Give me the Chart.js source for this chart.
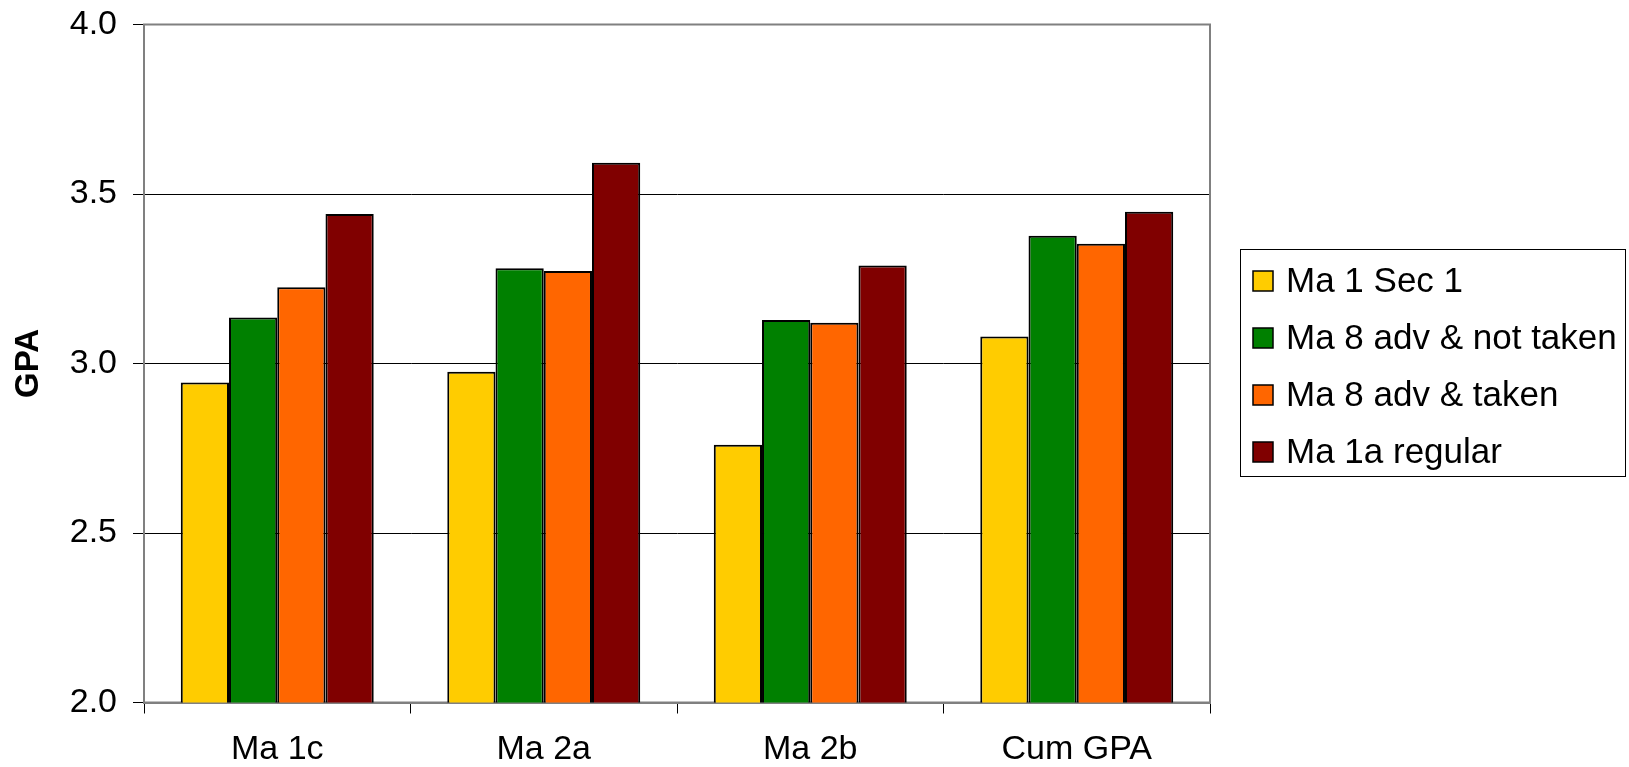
<!DOCTYPE html>
<html>
<head>
<meta charset="utf-8">
<script src="https://cdn.jsdelivr.net/npm/chart.js@4"></script>
<style>
  html, body { margin: 0; padding: 0; background: #ffffff; }
  #wrap { width: 1629px; height: 767px; }
</style>
</head>
<body>
<div id="wrap"><canvas id="c" width="1629" height="767"></canvas></div>
<script>
// Course groups along the x axis
const categories = ['Ma 1c', 'Ma 2a', 'Ma 2b', 'Cum GPA'];

// Mean GPA for each student group
const ma1Sec1      = [2.944, 2.976, 2.760, 3.080];
const ma8NotTaken  = [3.136, 3.281, 3.128, 3.377];
const ma8Taken     = [3.225, 3.273, 3.120, 3.353];
const ma1aRegular  = [3.441, 3.592, 3.289, 3.448];

const seriesNames  = ['Ma 1 Sec 1', 'Ma 8 adv & not taken', 'Ma 8 adv & taken', 'Ma 1a regular'];
const seriesColors = ['#FFCC00', '#008000', '#FF6600', '#800000'];
const seriesValues = [ma1Sec1, ma8NotTaken, ma8Taken, ma1aRegular];

const FONT = '"Liberation Sans", Arial, Helvetica, sans-serif';

// Grey frame around the plot area, drawn under the bars
const plotFrame = {
  id: 'plotFrame',
  beforeDatasetsDraw(chart) {
    const { ctx, chartArea: a } = chart;
    ctx.save();
    ctx.strokeStyle = '#808080';
    ctx.lineWidth = 2;
    ctx.strokeRect(a.left, a.top, a.right - a.left, a.bottom - a.top);
    ctx.restore();
  }
};

// Boxed legend to the right of the plot
const boxedLegend = {
  id: 'boxedLegend',
  afterDraw(chart) {
    const { ctx } = chart;
    const x0 = 1240.5, y0 = 249.5, w = 385, h = 227;
    const rowTop = 281, rowGap = 57;
    ctx.save();
    ctx.strokeStyle = '#000000';
    ctx.lineWidth = 1;
    ctx.fillStyle = '#ffffff';
    ctx.fillRect(x0, y0, w, h);
    ctx.strokeRect(x0, y0, w, h);
    ctx.font = '35px ' + FONT;
    ctx.textBaseline = 'middle';
    chart.data.datasets.forEach((ds, i) => {
      const cy = rowTop + i * rowGap;
      ctx.fillStyle = ds.backgroundColor;
      ctx.fillRect(1253, cy - 10, 20, 20);
      ctx.lineWidth = 1.5;
      ctx.strokeStyle = '#000000';
      ctx.strokeRect(1253, cy - 10, 20, 20);
      ctx.fillStyle = '#000000';
      ctx.fillText(ds.label, 1286, cy + 1);
    });
    ctx.restore();
  }
};

new Chart(document.getElementById('c'), {
  type: 'bar',
  data: {
    labels: categories,
    datasets: seriesValues.map((vals, i) => ({
      label: seriesNames[i],
      data: vals,
      backgroundColor: seriesColors[i],
      borderColor: '#000000',
      borderWidth: 2,
      borderSkipped: 'start',
      barPercentage: 1.0,
      categoryPercentage: 0.724
    }))
  },
  options: {
    responsive: false,
    animation: false,
    layout: { padding: { left: 0, top: 24.5, right: 419, bottom: 0 } },
    plugins: {
      legend: { display: false },
      tooltip: { enabled: false }
    },
    scales: {
      x: {
        afterFit(scale) { scale.height = 64.5; },
        grid: {
          offset: true,
          drawOnChartArea: false,
          drawTicks: true,
          tickLength: 11,
          tickColor: '#000000',
          lineWidth: 1
        },
        border: { color: '#808080', width: 2 },
        ticks: {
          color: '#000000',
          font: { family: FONT, size: 34 },
          padding: 16
        }
      },
      y: {
        min: 2.0,
        max: 4.0,
        afterFit(scale) { scale.width = 144; },
        ticks: {
          stepSize: 0.5,
          color: '#000000',
          font: { family: FONT, size: 34, lineHeight: 0.5 },
          padding: 16,
          callback: v => Number(v).toFixed(1)
        },
        grid: {
          color: '#000000',
          lineWidth: 1,
          tickLength: 11,
          tickColor: '#000000'
        },
        border: { color: '#808080', width: 2 },
        title: {
          display: true,
          text: 'GPA',
          color: '#000000',
          font: { family: FONT, size: 33, weight: 'bold' },
          padding: { top: 9, bottom: 0 }
        }
      }
    }
  },
  plugins: [plotFrame, boxedLegend]
});
</script>
</body>
</html>
